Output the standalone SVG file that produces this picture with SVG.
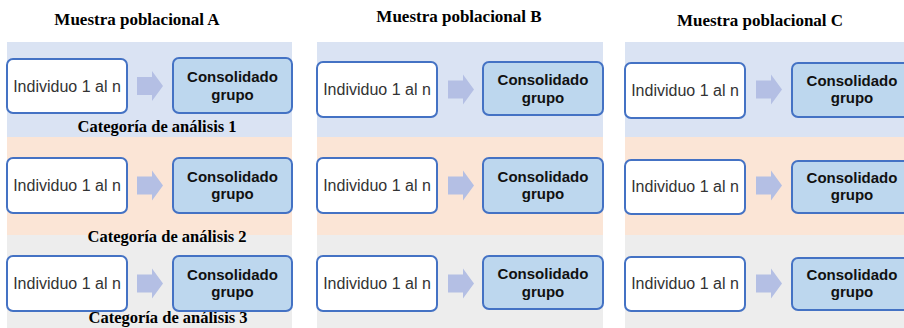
<svg xmlns="http://www.w3.org/2000/svg" width="904" height="328" viewBox="0 0 904 328">
<style>
.bl{fill:#dae3f3}
.pe{fill:#fbe5d6}
.gr{fill:#ededed}
.ind{fill:#ffffff;stroke:#4472c4;stroke-width:2}
.con{fill:#bdd7ee;stroke:#4472c4;stroke-width:2}
.it{font-family:"Liberation Sans",Arial,sans-serif;font-size:16px;fill:#333333;text-anchor:middle}
.ct{font-family:"Liberation Sans",Arial,sans-serif;font-size:15px;font-weight:bold;fill:#111111;text-anchor:middle}
.hd{font-family:"Liberation Serif","Times New Roman",serif;font-size:17px;font-weight:bold;fill:#000000;text-anchor:middle}
.cat{font-family:"Liberation Serif","Times New Roman",serif;font-size:16.5px;font-weight:bold;fill:#000000;text-anchor:middle}
.ar{fill:#b4bfe4}
</style>
<rect width="904" height="328" fill="#ffffff"/>
<g id="bands">
<rect class="bl" x="7" y="42" width="285" height="95"/>
<rect class="pe" x="7" y="137" width="285" height="98"/>
<rect class="gr" x="7" y="235" width="285" height="93"/>
<rect class="bl" x="317" y="42" width="286" height="95"/>
<rect class="pe" x="317" y="137" width="286" height="98"/>
<rect class="gr" x="317" y="235" width="286" height="93"/>
<rect class="bl" x="625" y="42" width="279" height="95"/>
<rect class="pe" x="625" y="137" width="279" height="98"/>
<rect class="gr" x="625" y="235" width="279" height="93"/>
</g>
<g id="headings">
<text class="hd" x="137" y="25">Muestra poblacional A</text>
<text class="hd" x="459" y="22">Muestra poblacional B</text>
<text class="hd" x="760" y="26">Muestra poblacional C</text>
</g>
<g id="categories">
<text class="cat" x="157" y="132">Categoría de análisis 1</text>
<text class="cat" x="167" y="242">Categoría de análisis 2</text>
<text class="cat" x="168" y="323">Categoría de análisis 3</text>
</g>
<g id="connectors">
<polygon class="ar" points="137,77 152,77 152,71 163,86 152,101 152,95 137,95"/>
<polygon class="ar" points="137,176.5 152,176.5 152,170.5 163,185.5 152,200.5 152,194.5 137,194.5"/>
<polygon class="ar" points="137,274.5 152,274.5 152,268.5 163,283.5 152,298.5 152,292.5 137,292.5"/>
<polygon class="ar" points="448,80.5 463,80.5 463,74.5 474,89.5 463,104.5 463,98.5 448,98.5"/>
<polygon class="ar" points="448,176.5 463,176.5 463,170.5 474,185.5 463,200.5 463,194.5 448,194.5"/>
<polygon class="ar" points="448,274.5 463,274.5 463,268.5 474,283.5 463,298.5 463,292.5 448,292.5"/>
<polygon class="ar" points="756,80.5 771,80.5 771,74.5 782,89.5 771,104.5 771,98.5 756,98.5"/>
<polygon class="ar" points="756,176.5 771,176.5 771,170.5 782,185.5 771,200.5 771,194.5 756,194.5"/>
<polygon class="ar" points="756,274.5 771,274.5 771,268.5 782,283.5 771,298.5 771,292.5 756,292.5"/>
</g>
<g id="A1-ind"><rect class="ind" x="7" y="59" width="120" height="54" rx="6"/><text class="it" x="67" y="91.5">Individuo 1 al n</text></g>
<g id="A1-con"><rect class="con" x="173" y="58" width="119" height="55" rx="6"/><text class="ct" x="232.5" y="82">Consolidado</text><text class="ct" x="232.5" y="99.5">grupo</text></g>
<g id="A2-ind"><rect class="ind" x="7" y="158" width="120" height="55" rx="6"/><text class="it" x="67" y="191">Individuo 1 al n</text></g>
<g id="A2-con"><rect class="con" x="173" y="158" width="119" height="55" rx="6"/><text class="ct" x="232.5" y="181.5">Consolidado</text><text class="ct" x="232.5" y="199">grupo</text></g>
<g id="A3-ind"><rect class="ind" x="7" y="256" width="120" height="55" rx="6"/><text class="it" x="67" y="289">Individuo 1 al n</text></g>
<g id="A3-con"><rect class="con" x="173" y="256" width="119" height="55" rx="6"/><text class="ct" x="232.5" y="279.5">Consolidado</text><text class="ct" x="232.5" y="297">grupo</text></g>
<g id="B1-ind"><rect class="ind" x="317" y="62" width="120" height="55" rx="6"/><text class="it" x="377" y="95">Individuo 1 al n</text></g>
<g id="B1-con"><rect class="con" x="483" y="62" width="120" height="53" rx="6"/><text class="ct" x="543" y="85">Consolidado</text><text class="ct" x="543" y="102.5">grupo</text></g>
<g id="B2-ind"><rect class="ind" x="317" y="158" width="120" height="55" rx="6"/><text class="it" x="377" y="191">Individuo 1 al n</text></g>
<g id="B2-con"><rect class="con" x="483" y="158" width="120" height="55" rx="6"/><text class="ct" x="543" y="181.5">Consolidado</text><text class="ct" x="543" y="199">grupo</text></g>
<g id="B3-ind"><rect class="ind" x="317" y="256" width="120" height="55" rx="6"/><text class="it" x="377" y="289">Individuo 1 al n</text></g>
<g id="B3-con"><rect class="con" x="483" y="256" width="120" height="53" rx="6"/><text class="ct" x="543" y="279">Consolidado</text><text class="ct" x="543" y="296.5">grupo</text></g>
<g id="C1-ind"><rect class="ind" x="625" y="63" width="120" height="55" rx="6"/><text class="it" x="685" y="96">Individuo 1 al n</text></g>
<g id="C1-con"><rect class="con" x="792" y="63" width="120" height="54" rx="6"/><text class="ct" x="852" y="85.5">Consolidado</text><text class="ct" x="852" y="103">grupo</text></g>
<g id="C2-ind"><rect class="ind" x="625" y="160" width="120" height="54" rx="6"/><text class="it" x="685" y="192">Individuo 1 al n</text></g>
<g id="C2-con"><rect class="con" x="792" y="161" width="120" height="52" rx="6"/><text class="ct" x="852" y="182.5">Consolidado</text><text class="ct" x="852" y="200">grupo</text></g>
<g id="C3-ind"><rect class="ind" x="625" y="257" width="120" height="54" rx="6"/><text class="it" x="685" y="289">Individuo 1 al n</text></g>
<g id="C3-con"><rect class="con" x="792" y="258" width="120" height="52" rx="6"/><text class="ct" x="852" y="279.5">Consolidado</text><text class="ct" x="852" y="297">grupo</text></g>
</svg>
